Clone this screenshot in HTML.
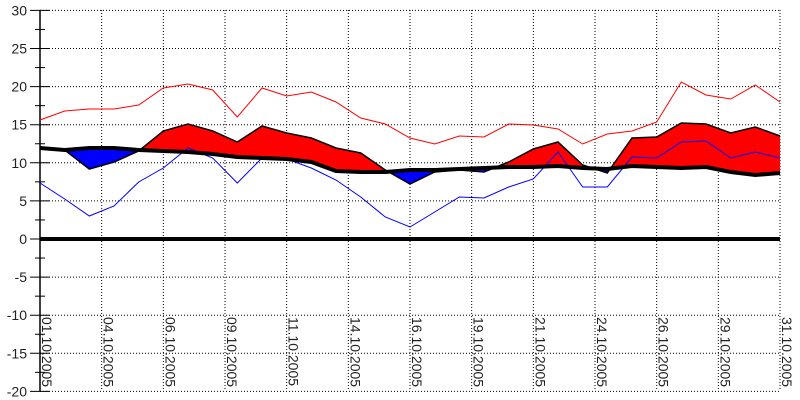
<!DOCTYPE html>
<html><head><meta charset="utf-8"><style>
body{margin:0;background:#fff;}
svg{display:block;font-family:"Liberation Sans",sans-serif;}
</style></head><body>
<svg id="c" width="800" height="400" xmlns="http://www.w3.org/2000/svg"></svg>
<script>
const s=document.getElementById('c');
let h='';
const X=i=>40+i*740/30;
const Y=v=>239-7.62*v;
// horizontal grid + y labels
for(let v=-20;v<=30;v+=5){
 const y=Y(v);
 h+=`<line x1="40" y1="${y}" x2="780" y2="${y}" stroke="#000" stroke-dasharray="1,2"/>`;
 h+=`<line x1="30" y1="${y}" x2="50" y2="${y}" stroke="#000"/>`;
 h+=`<text x="27" y="${y+5}" font-size="14" text-anchor="end" fill="#222">${v}</text>`;
 if(v<30){const y2=Y(v+2.5);h+=`<line x1="35" y1="${y2}" x2="45" y2="${y2}" stroke="#000"/>`;}
}
const labs=['01','04','06','09','11','14','16','19','21','24','26','29','31'];
for(let k=0;k<13;k++){
 const x=40+k*740/12;
 if(k>0)h+=`<line x1="${x}" y1="10" x2="${x}" y2="391" stroke="#000" stroke-dasharray="1,2"/>`;
 h+=`<text transform="translate(${x+2},317) rotate(90)" font-size="14" fill="#222">${labs[k]}.10.2005</text>`;
}
h+=`<line x1="40" y1="10" x2="40" y2="391" stroke="#000" stroke-width="1.5"/>`;
const mx=[120,111,109,109,105,88,84,90,117,88,96,92,102,118,124,138,144,136,137,124,125,129,144,134,131,122,82,95,99,85,102];
const mn=[183,199,216,206,182,168,148,158,183,158,159,168,180,197,217,227,212,197,198,187,179,152,187,187,157,158,142,141,158,152,158];
const ac=[147,150,169,162,151,131,124,131,142,126,133,138,148,153,170,184,172,170,172,162,149,142,165,173,138,137,123,124,133,127,136];
const nm=[148,150,148,148,150,151,152,154,157,158,159,162,171,172,172,170,170,169,168,167,167,166,168,169,166,167,168,167,172,175,173];
const pts=a=>a.map((y,i)=>`${X(i).toFixed(1)},${y}`).join(' ');
const nmPts=pts(nm);
h+=`<defs><clipPath id="up"><polygon points="40,0 ${nmPts} 780,0"/></clipPath><clipPath id="dn"><polygon points="40,400 ${nmPts} 780,400"/></clipPath></defs>`;
const poly=pts(ac)+' '+nm.map((y,i)=>`${X(i).toFixed(1)},${y}`).reverse().join(' ');
h+=`<polygon points="${poly}" fill="#f00" clip-path="url(#up)"/>`;
h+=`<polygon points="${poly}" fill="#00f" clip-path="url(#dn)"/>`;
h+=`<polyline points="${pts(ac)}" fill="none" stroke="#000" stroke-width="1.5"/>`;
h+=`<polyline points="${pts(mx)}" fill="none" stroke="#f00" stroke-width="1"/>`;
h+=`<polyline points="${pts(mn)}" fill="none" stroke="#00f" stroke-width="1"/>`;
h+=`<polyline points="${nmPts}" fill="none" stroke="#000" stroke-width="4"/>`;
h+=`<line x1="40" y1="239" x2="780" y2="239" stroke="#000" stroke-width="4"/>`;
s.innerHTML=h;
</script>
</body></html>
